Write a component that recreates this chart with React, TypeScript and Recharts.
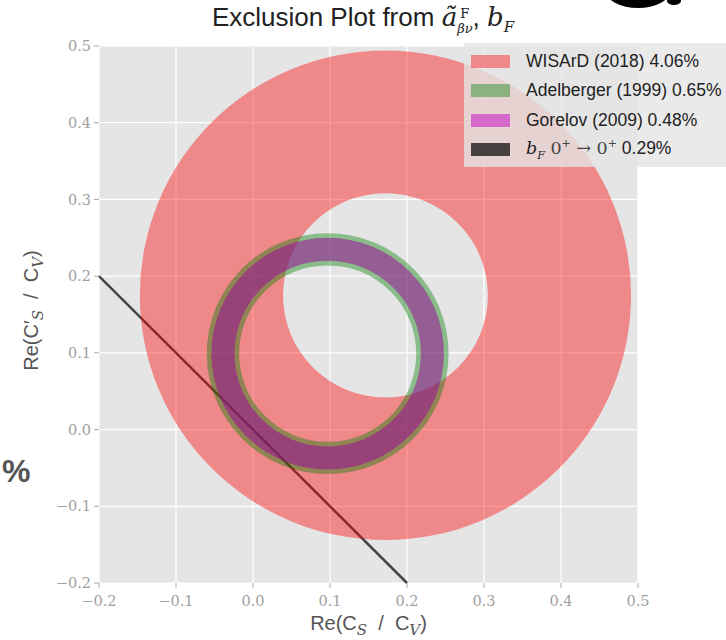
import * as Recharts from "recharts";

const { ScatterChart, Scatter, XAxis, YAxis, CartesianGrid, ReferenceLine, Legend } = Recharts;
const usePlotArea: any = (Recharts as any).usePlotArea || (() => null);

const xTicks = [-0.2, -0.1, 0.0, 0.1, 0.2, 0.3, 0.4, 0.5];
const yTicks = [-0.2, -0.1, 0.0, 0.1, 0.2, 0.3, 0.4, 0.5];

// each ring: centre (x, y) and outer / inner radius, in axis units
const wisardRing = [{ x: 0.172, y: 0.175, rOut: 0.319, rIn: 0.133 }];
const adelbergerRing = [{ x: 0.097, y: 0.099, rOut: 0.157, rIn: 0.115 }];
const gorelovRing = [{ x: 0.097, y: 0.099, rOut: 0.151, rIn: 0.121 }];
const bFLine = [
  { x: -0.2, y: 0.2 },
  { x: 0.2, y: -0.2 },
];

const legendNames = ["WISArD (2018) 4.06%", "Adelberger (1999) 0.65%", "Gorelov (2009) 0.48%"];
const legendColors = ["rgba(255,0,0,0.4)", "rgba(0,128,0,0.4)", "rgba(191,0,191,0.5)", "rgba(0,0,0,0.7)"];

const W = 726;
const H = 640;
const margin = { top: 46, right: 88, bottom: 7, left: 39 };
const X_DOMAIN: [number, number] = [-0.2, 0.5];
const Y_DOMAIN: [number, number] = [-0.2, 0.5];

const serif = "'DejaVu Serif', serif";
const sans = "'Liberation Sans', Arial, sans-serif";

const fmt = (v: number) => (v < 0 ? "\u2212" : "") + Math.abs(v).toFixed(1);

function Ring(props: any) {
  const { cx, cy, payload, color, alpha } = props;
  const plot = usePlotArea();
  const pw = plot?.width ?? W - margin.left - margin.right - 60;
  const ph = plot?.height ?? H - margin.top - margin.bottom - 50;
  const kx = pw / (X_DOMAIN[1] - X_DOMAIN[0]);
  const ky = ph / (Y_DOMAIN[1] - Y_DOMAIN[0]);
  const circle = (r: number) => {
    const rx = r * kx;
    const ry = r * ky;
    return `M${cx + rx},${cy} A${rx},${ry} 0 1 0 ${cx - rx},${cy} A${rx},${ry} 0 1 0 ${cx + rx},${cy} Z`;
  };
  return (
    <path
      d={circle(payload.rOut) + " " + circle(payload.rIn)}
      fill={color}
      fillOpacity={alpha}
      fillRule="evenodd"
    />
  );
}

function XLabel({ viewBox }: any) {
  const x = viewBox.x + viewBox.width / 2;
  const y = viewBox.y + 47;
  return (
    <text
      x={x}
      y={y}
      textAnchor="middle"
      fill="#555"
      fontSize={20}
      fontFamily={sans}
      style={{ whiteSpace: "pre" }}
    >
      Re(C
      <tspan dy={5} fontSize={15} fontStyle="italic" fontFamily={serif}>S</tspan>
      <tspan dy={-5}>{"  /  C"}</tspan>
      <tspan dy={5} fontSize={15} fontStyle="italic" fontFamily={serif}>V</tspan>
      <tspan dy={-5}>)</tspan>
    </text>
  );
}

function YLabel({ viewBox }: any) {
  const x = viewBox.x - 1;
  const y = viewBox.y + viewBox.height / 2 - 4;
  return (
    <text
      x={x}
      y={y}
      transform={`rotate(-90 ${x} ${y})`}
      textAnchor="middle"
      fill="#555"
      fontSize={20}
      fontFamily={sans}
      style={{ whiteSpace: "pre" }}
    >
      Re(C′
      <tspan dy={5} fontSize={15} fontStyle="italic" fontFamily={serif}>S</tspan>
      <tspan dy={-5}>{"  /  C"}</tspan>
      <tspan dy={5} fontSize={15} fontStyle="italic" fontFamily={serif}>V</tspan>
      <tspan dy={-5}>)</tspan>
    </text>
  );
}

function LegendBox() {
  const row = (color: string, label: any, i: number) => (
    <div key={i} style={{ display: "flex", alignItems: "center", height: 29.3 }}>
      <div style={{ width: 39, height: 13, background: color, marginLeft: 7, marginRight: 16 }} />
      <div style={{ fontFamily: sans, fontSize: 17.5, color: "#222", whiteSpace: "nowrap" }}>{label}</div>
    </div>
  );
  return (
    <div
      style={{
        background: "rgba(229,229,229,0.8)",
        width: 280,
        height: 124,
        paddingTop: 4,
        boxSizing: "border-box",
      }}
    >
      {legendNames.map((n, i) => row(legendColors[i], n, i))}
      {row(
        legendColors[3],
        <span>
          <span style={{ fontFamily: serif, fontStyle: "italic" }}>b</span>
          <sub style={{ fontFamily: serif, fontStyle: "italic", fontSize: 11 }}>F</sub>
          <span style={{ fontFamily: serif, color: "#444" }}>
            {" "}0<sup style={{ fontSize: 11 }}>+</sup> → 0<sup style={{ fontSize: 11 }}>+</sup>
          </span>{" "}
          0.29%
        </span>,
        3
      )}
    </div>
  );
}

export default function App() {
  return (
    <div style={{ position: "absolute", left: 0, top: 0, width: W, height: H, background: "#fff", overflow: "hidden" }}>
      <svg style={{ position: "absolute", left: 0, top: 0 }} width={W} height={20}>
        <ellipse cx={638} cy={-9} rx={32} ry={17} fill="#000" />
        <ellipse cx={674} cy={1} rx={7} ry={4} fill="#000" />
      </svg>
      <div
        style={{
          position: "absolute",
          top: 2,
          left: 0,
          width: W,
          textAlign: "center",
          fontFamily: sans,
          fontSize: 26,
          color: "#222",
        }}
      >
        Exclusion Plot from{" "}
        <span style={{ fontFamily: serif, fontStyle: "italic" }}>ã</span>
        <span
          style={{
            display: "inline-flex",
            flexDirection: "column",
            verticalAlign: "middle",
            lineHeight: "15px",
            fontFamily: serif,
            fontSize: 13,
            marginTop: 4,
          }}
        >
          <span>F</span>
          <span style={{ fontStyle: "italic" }}>βν</span>
        </span>
        , <span style={{ fontFamily: serif, fontStyle: "italic" }}>b</span>
        <sub style={{ fontFamily: serif, fontStyle: "italic", fontSize: 15 }}>F</sub>
      </div>
      <div
        style={{
          position: "absolute",
          left: 2,
          top: 453,
          fontFamily: sans,
          fontSize: 32,
          fontWeight: "bold",
          color: "#555",
        }}
      >
        %
      </div>
      <ScatterChart width={W} height={H} margin={margin}>
        <CartesianGrid fill="#e5e5e5" stroke="#fff" strokeWidth={1.2} />
        <XAxis
          type="number"
          dataKey="x"
          domain={X_DOMAIN}
          ticks={xTicks}
          allowDataOverflow
          tickFormatter={fmt}
          axisLine={false}
          tickLine={{ stroke: "#aaa" }}
          tickSize={5}
          tickMargin={8}
          height={50}
          tick={{ fill: "#a0a0a0", fontSize: 14.5, fontFamily: serif }}
          label={<XLabel />}
        />
        <YAxis
          type="number"
          dataKey="y"
          domain={Y_DOMAIN}
          ticks={yTicks}
          allowDataOverflow
          tickFormatter={fmt}
          axisLine={false}
          tickLine={{ stroke: "#aaa" }}
          tickSize={5}
          tickMargin={3}
          width={60}
          tick={{ fill: "#a0a0a0", fontSize: 14.5, fontFamily: serif }}
          label={<YLabel />}
        />
        <Scatter
          data={wisardRing}
          isAnimationActive={false}
          shape={(p: any) => <Ring {...p} color="#ff0000" alpha={0.4} />}
        />
        <Scatter
          data={adelbergerRing}
          isAnimationActive={false}
          shape={(p: any) => <Ring {...p} color="#008000" alpha={0.4} />}
        />
        <Scatter
          data={gorelovRing}
          isAnimationActive={false}
          shape={(p: any) => <Ring {...p} color="#a000a0" alpha={0.5} />}
        />
        <ReferenceLine
          segment={bFLine}
          stroke="#000"
          strokeOpacity={0.7}
          strokeWidth={2.5}
        />
        <Legend
          layout="horizontal"
          verticalAlign="middle"
          align="center"
          content={<LegendBox />}
          wrapperStyle={{ left: 464, top: 43, width: 280, bottom: "auto", right: "auto" }}
        />
      </ScatterChart>
    </div>
  );
}
